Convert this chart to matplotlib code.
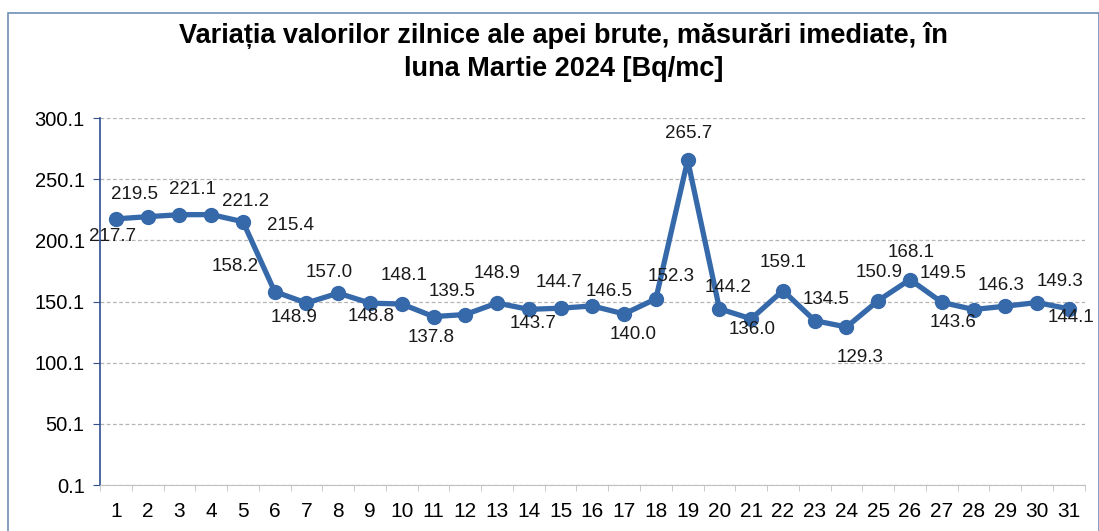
# Daily raw water values, March 2024
import numpy as np
import matplotlib.pyplot as plt
from matplotlib.patches import Rectangle

plt.rcParams['font.family'] = ['Liberation Sans', 'DejaVu Sans']

# Data
days = list(range(1, 32))
values = [217.7, 219.5, 221.1, 221.2, 215.4, 158.2, 148.9, 157.0, 148.8, 148.1,
          137.8, 139.5, 148.9, 143.7, 144.7, 146.5, 140.0, 152.3, 265.7, 144.2,
          136.0, 159.1, 134.5, 129.3, 150.9, 168.1, 149.5, 143.6, 146.3, 149.3,
          144.1]
yticks = [0.1, 50.1, 100.1, 150.1, 200.1, 250.1, 300.1]
title = "Variația valorilor zilnice ale apei brute, măsurări imediate, în\nluna Martie 2024 [Bq/mc]"

# label offsets in pixels (dx, dy)
label_off = [(-3, -18), (-13, 22), (13, 25), (34, 13), (48, -4), (-40, 25), (-12, -14),
             (-9, 21), (1, -13), (2, 29), (-2, -21), (-13, 23), (0, 30), (4, -14),
             (-2, 26), (17, 14), (9, -21), (15, 22), (1, 27), (9, 21), (1, -11),
             (0, 28), (11, 21), (14, -31), (1, 28), (1, 27), (1, 29), (-20, -13),
             (-4, 21), (23, 21), (2, -9)]

line_color = '#3669AA'

fig = plt.figure(figsize=(10.99, 5.31), dpi=100)
ax = fig.add_axes([0.091, 0.0866, 0.896, 0.691])

# outer chart border
fig.patches.append(Rectangle((0.007, -0.01), 0.993, 0.985, transform=fig.transFigure,
                             fill=False, edgecolor='#6F8FB8', linewidth=1.2))

ax.plot(days, values, color=line_color, linewidth=3.8, marker='o',
        markersize=10, zorder=3)

for d, v, (dx, dy) in zip(days, values, label_off):
    ax.annotate(f"{v:.1f}", (d, v), xytext=(dx, dy), textcoords='offset pixels',
                ha='center', va='center', fontsize=13.5, color='#1a1a1a', zorder=4)

ax.set_xlim(0.5, 31.5)
ax.set_ylim(0.1, 300.1)
ax.set_yticks(yticks)
ax.set_yticklabels([f"{t:.1f}" for t in yticks])
ax.set_xticks(days)
ax.set_xticks(np.arange(0.5, 32, 1), minor=True)

ax.grid(axis='y', color='#b5b5b5', linestyle=(0, (3, 2)), linewidth=0.9)
ax.set_axisbelow(True)

for s in ['top', 'right']:
    ax.spines[s].set_visible(False)
ax.spines['left'].set_color('#2F4F8F')
ax.spines['left'].set_linewidth(1.2)
ax.spines['bottom'].set_color('#c0c0c0')

ax.tick_params(axis='y', labelsize=14.5, length=5, color='#2F4F8F', pad=6)
ax.tick_params(axis='x', which='major', labelsize=15, length=0, pad=12)
ax.tick_params(axis='x', which='minor', length=4, color='#c0c0c0')

fig.text(0.513, 0.958, title, ha='center', va='top', fontsize=19.5,
         fontweight='bold', linespacing=1.35)

fig.savefig('out.png', dpi=100)
